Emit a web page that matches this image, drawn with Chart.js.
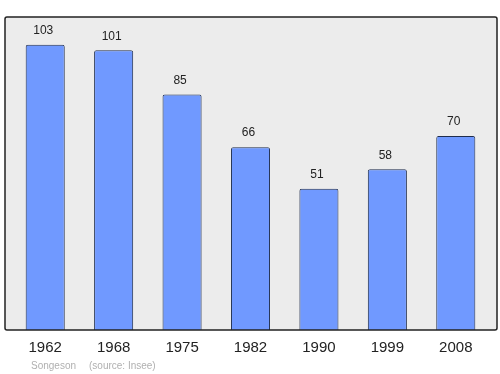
<!DOCTYPE html>
<html>
<head>
<meta charset="utf-8">
<script src="https://cdn.jsdelivr.net/npm/chart.js@4"></script>
<style>
  html, body { margin: 0; padding: 0; background: #fff; }
  #wrap { width: 500px; height: 374px; position: relative; }
</style>
</head>
<body>
<div id="wrap"><canvas id="myChart"></canvas></div>
<script>
// data
let years = ["1962", "1968", "1975", "1982", "1990", "1999", "2008"]
let population = [103, 101, 85, 66, 51, 58, 70]
let townName = "Songeson"
let sourceText = "(source: Insee)"

// gray frame behind the bars + value labels + footer
let framePlugin = {
    id: "frame",
    beforeDraw: function (chart) {
        let c = chart.ctx
        let area = chart.chartArea
        c.save()
        c.fillStyle = "#ececec"
        c.fillRect(5, area.top, 492, area.bottom - area.top)
        c.restore()
    },
    afterDraw: function (chart) {
        let c = chart.ctx
        let area = chart.chartArea
        c.save()
        c.strokeStyle = "#222"
        c.lineWidth = 1.5
        c.beginPath()
        c.roundRect(5, area.top, 492, area.bottom - area.top, 2)
        c.stroke()

        // values above the bars
        let meta = chart.getDatasetMeta(0)
        c.fillStyle = "#222"
        c.font = "12px 'Liberation Sans', Arial, sans-serif"
        c.textAlign = "center"
        c.textBaseline = "middle"
        meta.data.forEach(function (bar, i) {
            c.fillText(population[i], bar.x - 2, bar.y - 14)
        })

        // footer
        c.fillStyle = "#b0b0b0"
        c.font = "10px 'Liberation Sans', Arial, sans-serif"
        c.textAlign = "left"
        c.fillText(townName, 31, 366)
        c.fillText(sourceText, 89, 366)
        c.restore()
    }
}

var ctx = document.getElementById('myChart').getContext('2d');
var myChart = new Chart(ctx, {
    type: 'bar',
    data: {
        labels: years,
        datasets: [{
            label: 'Population',
            data: population,
            backgroundColor: 'rgb(112, 153, 255)',
            borderColor: '#1f2d4d',
            borderWidth: 1,
            borderSkipped: 'bottom',
            borderRadius: 2,
            barPercentage: 0.571,
            categoryPercentage: 1,
        }]
    },
    options: {
        responsive: true,
        maintainAspectRatio: false,
        animation: false,
        layout: {
            padding: { left: 11, right: 10, top: 17, bottom: 0 }
        },
        scales: {
            x: {
                grid: { display: false, drawTicks: false },
                border: { display: false },
                ticks: {
                    color: '#222',
                    padding: 9,
                    font: { size: 15, family: "'Liberation Sans', Arial, sans-serif" },
                },
                afterFit: function (scale) { scale.height = 44 },
            },
            y: {
                display: false,
                min: 0,
                max: 113,
            }
        },
        plugins: {
            legend: { display: false },
            tooltip: { enabled: false },
        },
    },
    plugins: [framePlugin]
});
</script>
</body>
</html>
